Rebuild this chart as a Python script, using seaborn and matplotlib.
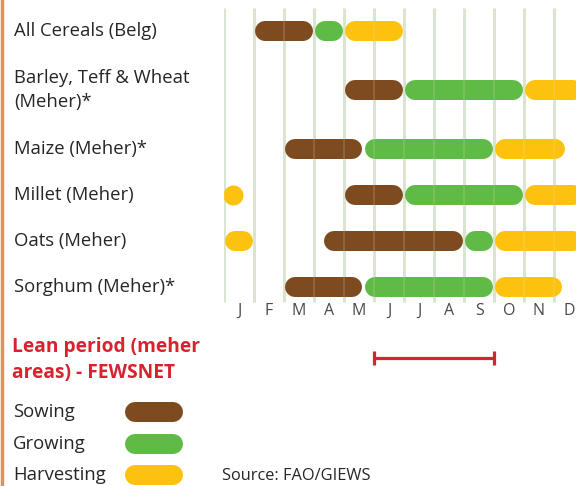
import numpy as np
import matplotlib.pyplot as plt
import matplotlib.transforms as mtransforms
from matplotlib.lines import Line2D
import seaborn as sns

# crop calendar data (months: 0 = start of Jan, 12 = end of Dec)
crops = ['All Cereals (Belg)', 'Barley, Teff & Wheat\n(Meher)*', 'Maize (Meher)*',
         'Millet (Meher)', 'Oats (Meher)', 'Sorghum (Meher)*']
sowing = [[(1, 3)], [(4, 6)], [(2, 4.65)], [(4, 6)], [(3.3, 8)], [(2, 4.65)]]
growing = [[(3, 4)], [(6, 10)], [(4.65, 9)], [(6, 10)], [(8, 9)], [(4.65, 9)]]
harvesting = [[(4, 6)], [(10, 12)], [(9, 11.4)], [(0, 0.6), (10, 12)],
              [(0, 1), (9, 12)], [(9, 11.3)]]
months = ['J', 'F', 'M', 'A', 'M', 'J', 'J', 'A', 'S', 'O', 'N', 'D']
lean_period = (5, 9)
stages = ['Sowing', 'Growing', 'Harvesting']
stage_colors = ['#7e4a1f', '#5fba46', '#fcc20f']

sns.set_style('white')
plt.rcParams['font.family'] = ['Open Sans', 'DejaVu Sans']

W, H = 576, 486
fig = plt.figure(figsize=(W / 100, H / 100), dpi=100)
x0 = 224  # pixel where January starts
px_per_month = 30
ax = fig.add_axes([x0 / W, 0, 1 - x0 / W, 1])
ax.set_xlim(0, (W - x0) / px_per_month)
ax.set_ylim(H, 0)
ax.axis('off')

# row centres from label line counts
row_y = []
y = 8
for c in crops:
    h = 72 if '\n' in c else 46
    row_y.append(y + h / 2)
    y += h

# grid lines (month boundaries)
grid_top, grid_bot = 8, 302
ax.vlines(np.arange(0, 13), grid_top, grid_bot, color='#d9e5d0', lw=2.2, zorder=1)

bar_px = 20
lw = bar_px * 0.72
r = (bar_px / 2) / px_per_month
gap = 1.2 / px_per_month
for i, yy in enumerate(row_y):
    for segs, col in zip([sowing[i], growing[i], harvesting[i]], stage_colors):
        for s, e in segs:
            a, b = s + gap + r, e - gap - r
            if a >= b:
                ax.scatter([(s + e) / 2], [yy], s=lw ** 2, color=col, linewidths=0, zorder=2)
            else:
                ax.plot([a, b], [yy, yy], color=col, lw=lw, solid_capstyle='round', zorder=2)
# faint grid showing through bars
ax.vlines(np.arange(0, 13), grid_top, grid_bot, color='#e8e0c8', lw=1.2, alpha=0.2, zorder=3)

# month labels
for m, lab in enumerate(months):
    ax.text(m + 0.5, 311, lab, ha='center', va='center', fontsize=11.5, color='#4a4a4a')

# category labels
tr = mtransforms.blended_transform_factory(fig.transFigure, ax.transData)
for c, yy in zip(crops, row_y):
    ax.text(14 / W, yy, c, transform=tr, ha='left', va='center', fontsize=13.3,
            color='#262626', linespacing=1.4, clip_on=False)

# lean period
red = '#d8232f'
ax.text(12 / W, 347, 'Lean period (meher', transform=tr, ha='left', va='center',
        fontsize=13.8, fontweight='bold', color=red)
ax.text(12 / W, 373, 'areas) - FEWSNET', transform=tr, ha='left', va='center',
        fontsize=13.8, fontweight='bold', color=red)
mid = (lean_period[0] + lean_period[1]) / 2
ax.errorbar(mid, 358, xerr=(lean_period[1] - lean_period[0]) / 2, fmt='none',
            ecolor=red, elinewidth=2.3, capsize=5, capthick=2.3)

# legend
for k, (st, col) in enumerate(zip(stages, stage_colors)):
    yy = [412, 444, 475][k]
    fig.text(13 / W, 1 - yy / H, st, ha='left', va='center', fontsize=13.3, color='#262626')
    fig.add_artist(Line2D([135 / W, 173 / W], [1 - yy / H, 1 - yy / H], transform=fig.transFigure,
                          color=col, lw=lw, solid_capstyle='round'))

fig.text(222 / W, 1 - 476 / H, 'Source: FAO/GIEWS', ha='left', va='center', fontsize=11.8,
         color='#262626')

# orange edge on the left
fig.add_artist(Line2D([1.5 / W, 1.5 / W], [0, 1], transform=fig.transFigure, color='#ec8a5e', lw=2.5))

fig.savefig('out.png', dpi=100)
